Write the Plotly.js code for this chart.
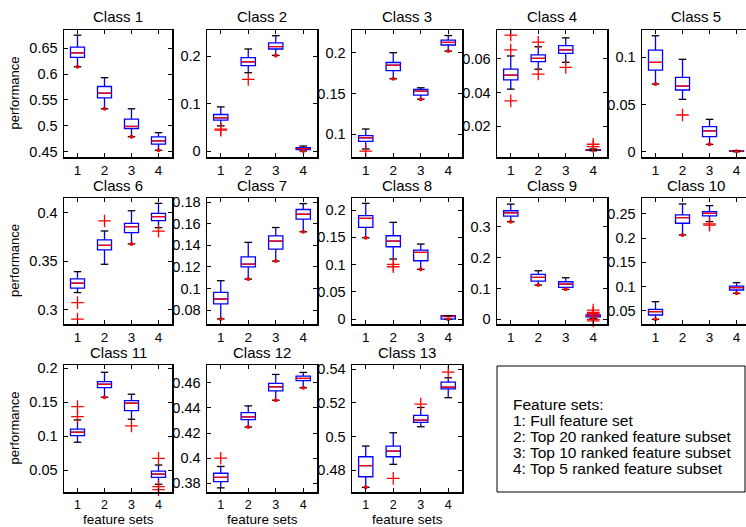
<!DOCTYPE html>
<html>
<head>
<meta charset="utf-8">
<script src="https://cdn.plot.ly/plotly-3.0.1.min.js"></script>
<style>html,body{margin:0;padding:0;background:#fff;}#chart{width:746px;height:527px;}</style>
</head>
<body>
<div id="chart"></div>
<script>
// ---------- DATA ----------
const classNames = ['Class 1','Class 2','Class 3','Class 4','Class 5','Class 6','Class 7',
  'Class 8','Class 9','Class 10','Class 11','Class 12','Class 13'];
const featureSets = [1, 2, 3, 4];
const featureTickText = ['1', '2', '3', '4'];

// whisker ends (adjacent values)
const lowCap = [
  [0.614,0.533,0.479,0.453],[0.053,0.165,0.2015,0.0],[0.082,0.168,0.143,0.202],
  [0.042,0.0539,0.058,0.0052],[0.0717,0.0555,0.0078,0.0],[0.3179,0.347,0.3679,0.3846],
  [0.0717,0.1087,0.1254,0.1526],[0.1492,0.1103,0.0914,0.0],[0.316,0.111,0.097,0.003],
  [0.0322,0.2066,0.2341,0.0859],[0.091,0.1574,0.1249,0.029],[0.3764,0.4248,0.4461,0.456],
  [0.4697,0.4834,0.5058,0.5231]];
const q1 = [
  [0.632,0.554,0.495,0.465],[0.065,0.180,0.215,0.003],[0.0914,0.178,0.148,0.2094],
  [0.0475,0.0584,0.0634,0.0055],[0.0865,0.0654,0.0159,0.0003],[0.3224,0.3617,0.3795,0.3918],
  [0.0856,0.1201,0.1365,0.1643],[0.1684,0.1328,0.1072,0.0005],[0.3345,0.124,0.1036,0.008],
  [0.0411,0.2308,0.2459,0.0928],[0.1007,0.1715,0.1376,0.0392],[0.3814,0.4307,0.4536,0.4616],
  [0.476,0.4879,0.5084,0.5284]];
const medians = [
  [0.641,0.563,0.499,0.471],[0.070,0.188,0.220,0.005],[0.0958,0.1846,0.153,0.2126],
  [0.0504,0.0604,0.0654,0.0057],[0.0947,0.0696,0.022,0.0006],[0.3275,0.3665,0.3856,0.3959],
  [0.0902,0.1226,0.144,0.1689],[0.1848,0.1432,0.1225,0.0055],[0.3452,0.1359,0.1143,0.011],
  [0.048,0.2424,0.2514,0.0976],[0.1058,0.1765,0.1485,0.0441],[0.3848,0.4328,0.4568,0.4634],
  [0.4826,0.4913,0.5098,0.5294]];
const q3 = [
  [0.652,0.576,0.513,0.479],[0.077,0.197,0.228,0.007],[0.0983,0.188,0.155,0.2155],
  [0.0539,0.0624,0.068,0.0059],[0.1077,0.0788,0.0265,0.0009],[0.3319,0.372,0.3891,0.3994],
  [0.0964,0.1294,0.1489,0.1733],[0.1896,0.1529,0.1267,0.0066],[0.3517,0.1456,0.1217,0.014],
  [0.0529,0.248,0.2548,0.101],[0.1102,0.1804,0.1524,0.0485],[0.388,0.4363,0.4595,0.4653],
  [0.4879,0.4943,0.5126,0.5324]];
const highCap = [
  [0.675,0.593,0.533,0.487],[0.093,0.215,0.243,0.0105],[0.1065,0.2,0.157,0.221],
  [0.0618,0.0673,0.0726,0.0063],[0.1229,0.0979,0.0343,0.0012],[0.3394,0.3812,0.402,0.4096],
  [0.1072,0.1428,0.1566,0.1788],[0.2122,0.1774,0.1377,0.0068],[0.3732,0.1573,0.1346,0.02],
  [0.0686,0.2707,0.2672,0.1079],[0.1239,0.1942,0.1618,0.0574],[0.3934,0.4416,0.4666,0.4682],
  [0.4943,0.5022,0.5173,0.535]];
// outliers ('+'), one list per feature set
const outliers = [
  [[],[],[],[]],
  [[0.046,0.044],[0.151],[],[]],
  [[0.0795],[],[],[]],
  [[0.0743,0.0654,0.035],[0.0701,0.051],[0.055],[0.0091,0.0077]],
  [[],[0.0389],[],[]],
  [[0.3076,0.2906],[0.3915],[],[0.381]],
  [[],[],[],[]],
  [[],[0.1006,0.0962],[],[]],
  [[],[],[],[0.03,0.022,0.018,0.0,-0.005]],
  [[],[],[0.2293,0.227],[]],
  [[0.1435,0.1288],[],[0.115],[0.0672,0.0255,0.021]],
  [[0.4],[],[],[]],
  [[],[0.475],[0.5193],[0.5383]]];
// small red marks sitting on the lower whisker end
const lowMarks = [
  [0.614,0.533,0.479,0.453],[null,null,0.2015,0.0],[null,0.168,0.143,0.202],
  [null,null,null,null],[0.0717,null,0.0078,0.0006],[null,null,0.3679,null],
  [0.0717,0.1087,0.1254,0.1526],[0.1492,null,0.0914,0.0],[0.316,0.111,0.097,null],
  [0.0322,0.2066,null,0.0859],[null,0.1574,null,null],[null,0.4248,0.4461,0.456],
  [0.4697,null,null,null]];
const yRanges = [
  [0.44,0.685],[-0.0126,0.255],[0.0722,0.2278],[0.0015,0.0773],[-0.0056,0.129],
  [0.2856,0.4151],[0.067,0.184],[-0.0086,0.222],[-0.0152,0.393],[0.0225,0.283],
  [0.0176,0.2049],[0.3731,0.4741],[0.4669,0.5426]];
const yTickText = [
  ['0.45','0.5','0.55','0.6','0.65'],['0','0.1','0.2'],['0.1','0.15','0.2'],
  ['0.02','0.04','0.06'],['0','0.05','0.1'],['0.3','0.35','0.4'],
  ['0.08','0.1','0.12','0.14','0.16','0.18'],['0','0.05','0.1','0.15','0.2'],
  ['0','0.1','0.2','0.3'],['0.05','0.1','0.15','0.2','0.25'],
  ['0.05','0.1','0.15','0.2'],['0.38','0.4','0.42','0.44','0.46'],['0.48','0.5','0.52','0.54']];
const legendTitle = 'Feature sets:';
const legendLines = ['1: Full feature set','2: Top 20 ranked feature subset',
  '3: Top 10 ranked feature subset','4: Top 5 ranked feature subset'];
const yLabel = 'performance';
const xLabel = 'feature sets';

// ---------- LAYOUT HELPERS ----------
const W = 746, H = 527;
const px = v => v / W;
const py = v => 1 - v / H;
const colPx = [[64,172],[207,317],[352,462],[497,607],[642,746]];
const rowPx = [[30,157],[198,324],[365,492]];
const FONT = 'Liberation Sans, Arial, Helvetica, sans-serif';
const BOXW = 0.26, CAPW = 0.14;

const traces = [];
const layout = {
  width: W, height: H, margin: {l:0,r:0,t:0,b:0},
  paper_bgcolor: '#fff', plot_bgcolor: '#fff', showlegend: false,
  font: {family: FONT, color: '#000'},
  annotations: [], shapes: []
};

classNames.forEach((name, k) => {
  const row = Math.floor(k / 5), col = k % 5;
  const xa = 'x' + (k + 1), ya = 'y' + (k + 1);
  const xKey = 'xaxis' + (k + 1), yKey = 'yaxis' + (k + 1);
  const [c0, c1] = colPx[col], [r0, r1] = rowPx[row];
  const lastCol = col === 4;
  layout[xKey] = {
    domain: [px(c0), px(c1)], anchor: ya,
    range: lastCol ? [0.5, 4.35] : [0.5, 4.5],
    tickvals: featureSets, ticktext: featureTickText,
    ticks: 'inside', ticklen: 4, tickcolor: '#000',
    showline: true, linecolor: '#000', linewidth: 1.5, mirror: 'ticks',
    showgrid: false, zeroline: false, fixedrange: true,
    tickfont: {family: FONT, size: row === 2 ? 12.5 : 13.5, color: '#000'}
  };
  layout[yKey] = {
    domain: [py(r1), py(r0)], anchor: xa,
    range: yRanges[k],
    tickvals: yTickText[k].map(Number), ticktext: yTickText[k],
    ticks: 'inside', ticklen: 4, tickcolor: '#000',
    showline: true, linecolor: '#000', linewidth: 1.5, mirror: lastCol ? false : 'ticks',
    showgrid: false, zeroline: false, fixedrange: true, ticklabelstandoff: 2,
    tickfont: {family: FONT, size: 14.5, color: '#000'}
  };

  // box + whiskers
  traces.push({
    type: 'box', xaxis: xa, yaxis: ya, x: featureSets,
    q1: q1[k], median: medians[k], q3: q3[k],
    lowerfence: lowCap[k], upperfence: highCap[k],
    width: 2 * BOXW, whiskerwidth: 0, boxpoints: false,
    line: {color: '#0000ff', width: 1.3}, fillcolor: 'rgba(0,0,0,0)',
    hoverinfo: 'skip'
  });
  // medians (red)
  const mx = [], my = [];
  featureSets.forEach((f, i) => { mx.push(f - BOXW, f + BOXW, null); my.push(medians[k][i], medians[k][i], null); });
  traces.push({type:'scatter', mode:'lines', xaxis: xa, yaxis: ya, x: mx, y: my,
    line: {color:'#ff0000', width: 1.3}, hoverinfo:'skip'});
  // caps (black)
  const cx = [], cy = [];
  featureSets.forEach((f, i) => {
    cx.push(f - CAPW, f + CAPW, null, f - CAPW, f + CAPW, null);
    cy.push(lowCap[k][i], lowCap[k][i], null, highCap[k][i], highCap[k][i], null);
  });
  traces.push({type:'scatter', mode:'lines', xaxis: xa, yaxis: ya, x: cx, y: cy,
    line: {color:'#000', width: 1.3}, hoverinfo:'skip'});
  // small red marks on lower caps
  const dx = [], dy = [];
  featureSets.forEach((f, i) => { if (lowMarks[k][i] !== null) { dx.push(f); dy.push(lowMarks[k][i]); } });
  traces.push({type:'scatter', mode:'markers', xaxis: xa, yaxis: ya, x: dx, y: dy,
    marker: {symbol:'circle', size: 4, color:'#ff0000'}, hoverinfo:'skip', cliponaxis: false});
  // outliers
  const ox = [], oy = [];
  featureSets.forEach((f, i) => outliers[k][i].forEach(v => { ox.push(f); oy.push(v); }));
  traces.push({type:'scatter', mode:'markers', xaxis: xa, yaxis: ya, x: ox, y: oy,
    marker: {symbol:'cross-thin-open', size: 9, color:'#ff0000', line: {color:'#ff0000', width: 1.3}},
    hoverinfo:'skip', cliponaxis: false});

  // panel title
  layout.annotations.push({text: name, xref:'paper', yref:'paper',
    x: px((c0 + Math.min(c1, 750)) / 2 + (lastCol ? 2 : 0)), y: py(r0 - 13),
    xanchor:'center', yanchor:'middle', showarrow:false,
    font: {family: FONT, size: 15, color:'#000'}});
  if (col === 0) {
    layout.annotations.push({text: yLabel, xref:'paper', yref:'paper',
      x: px(14), y: py((r0 + r1) / 2), textangle: -90,
      xanchor:'center', yanchor:'middle', showarrow:false,
      font: {family: FONT, size: 13, color:'#000'}});
  }
  if (row === 2) {
    layout.annotations.push({text: xLabel, xref:'paper', yref:'paper',
      x: px((c0 + c1) / 2), y: py(519.5),
      xanchor:'center', yanchor:'middle', showarrow:false,
      font: {family: FONT, size: 13.5, color:'#000'}});
  }
});

// legend-like text box
layout.shapes.push({type:'rect', xref:'paper', yref:'paper',
  x0: px(497), x1: px(745), y0: py(492), y1: py(366),
  line: {color:'#000', width: 1}, fillcolor:'rgba(0,0,0,0)'});
[legendTitle].concat(legendLines).forEach((t, i) => {
  layout.annotations.push({text: t, xref:'paper', yref:'paper',
    x: px(511), y: py(404 + 16 * i), xanchor:'left', yanchor:'middle', showarrow:false,
    font: {family: FONT, size: 15.5, color:'#000'}});
});

Plotly.newPlot('chart', traces, layout, {staticPlot: true, displayModeBar: false});
</script>
</body>
</html>
